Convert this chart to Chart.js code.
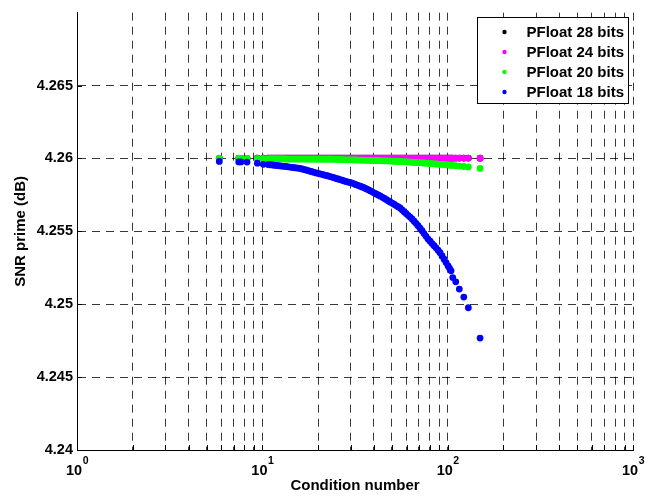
<!DOCTYPE html>
<html>
<head>
<meta charset="utf-8">
<script src="https://cdn.jsdelivr.net/npm/chart.js@4.4.0/dist/chart.umd.min.js"></script>
<style>
  html, body { margin: 0; padding: 0; background: #fff; }
  canvas { display: block; }
</style>
</head>
<body>
<canvas id="chart" width="653" height="498"></canvas>
<script>
// condition numbers (x) shared by all four runs
const conditionNumber = [
  5.86, 7.46, 7.67, 8.27, 9.40, 10.12,
  10.73, 11.00, 11.28, 11.57, 11.86, 12.15, 12.46, 12.77, 13.10, 13.43,
  13.76, 14.11, 14.46, 14.83, 15.20, 15.58, 15.97, 16.38, 16.79, 17.21,
  17.64, 18.09, 18.54, 19.01, 19.49, 19.98, 20.48, 21.00, 21.52, 22.07,
  22.62, 23.19, 23.78, 24.37, 24.99, 25.61, 26.26, 26.92, 27.60, 28.29,
  29.01, 29.73, 30.49, 31.25, 32.04, 32.84, 33.67, 34.52, 35.39, 36.28,
  37.19, 38.13, 39.09, 40.07, 41.08, 42.11, 43.17, 44.26, 45.37, 46.51,
  47.69, 48.88, 50.12, 51.37, 52.67, 53.99, 55.35, 56.74, 58.17, 59.63,
  61.14, 62.67, 64.25, 65.87, 67.53, 69.22, 70.97, 72.75, 74.58, 76.46,
  78.38, 80.36, 82.37, 84.45, 86.57, 88.76, 90.98, 93.28, 95.62, 98.03,
  100.5, 102.4, 104.3,
  106.5, 110.6, 115.6, 122.2, 129.3, 149.6
];

const snr28 = [
  4.26001, 4.26001, 4.26001, 4.26001, 4.26002, 4.26002,
  4.26003, 4.26003, 4.26003, 4.26003, 4.26003, 4.26003, 4.26003, 4.26003, 4.26003, 4.26003,
  4.26003, 4.26003, 4.26003, 4.26003, 4.26003, 4.26003, 4.26003, 4.26003, 4.26003, 4.26003,
  4.26003, 4.26003, 4.26003, 4.26003, 4.26003, 4.26003, 4.26003, 4.26003, 4.26003, 4.26003,
  4.26003, 4.26003, 4.26003, 4.26003, 4.26003, 4.26003, 4.26003, 4.26003, 4.26003, 4.26003,
  4.26003, 4.26003, 4.26003, 4.26003, 4.26003, 4.26003, 4.26003, 4.26003, 4.26003, 4.26003,
  4.26003, 4.26003, 4.26003, 4.26003, 4.26003, 4.26003, 4.26003, 4.26003, 4.26003, 4.26003,
  4.26003, 4.26003, 4.26003, 4.26003, 4.26003, 4.26003, 4.26003, 4.26003, 4.26003, 4.26003,
  4.26003, 4.26003, 4.26003, 4.26003, 4.26003, 4.26003, 4.26003, 4.26003, 4.26003, 4.26003,
  4.26003, 4.26003, 4.26003, 4.26003, 4.26003, 4.26003, 4.26003, 4.26003, 4.26003, 4.26003,
  4.26003, 4.26003, 4.26003,
  4.26003, 4.26003, 4.26003, 4.26003, 4.26003, 4.26002
];

const snr24 = [
  4.26001, 4.26001, 4.26001, 4.26001, 4.26002, 4.26002,
  4.26003, 4.26003, 4.26003, 4.26003, 4.26003, 4.26003, 4.26003, 4.26003, 4.26003, 4.26003,
  4.26003, 4.26003, 4.26003, 4.26003, 4.26003, 4.26003, 4.26003, 4.26003, 4.26003, 4.26003,
  4.26003, 4.26003, 4.26003, 4.26003, 4.26003, 4.26003, 4.26003, 4.26003, 4.26003, 4.26003,
  4.26003, 4.26003, 4.26003, 4.26003, 4.26003, 4.26003, 4.26003, 4.26003, 4.26003, 4.26003,
  4.26003, 4.26003, 4.26003, 4.26003, 4.26003, 4.26003, 4.26003, 4.26003, 4.26003, 4.26003,
  4.26003, 4.26003, 4.26003, 4.26003, 4.26003, 4.26003, 4.26003, 4.26003, 4.26003, 4.26003,
  4.26003, 4.26003, 4.26003, 4.26003, 4.26003, 4.26003, 4.26003, 4.26003, 4.26003, 4.26003,
  4.26003, 4.26003, 4.26003, 4.26003, 4.26003, 4.26003, 4.26003, 4.26003, 4.26003, 4.26003,
  4.26003, 4.26003, 4.26003, 4.26003, 4.26003, 4.26003, 4.26003, 4.26003, 4.26003, 4.26003,
  4.26003, 4.26003, 4.26003,
  4.26003, 4.26003, 4.26003, 4.26003, 4.26003, 4.26002
];

const snr20 = [
  4.26002, 4.26000, 4.26000, 4.26000, 4.25999, 4.25998,
  4.25997, 4.25997, 4.25997, 4.25997, 4.25997, 4.25997, 4.25997, 4.25997, 4.25997, 4.25996,
  4.25996, 4.25996, 4.25996, 4.25996, 4.25996, 4.25996, 4.25996, 4.25996, 4.25996, 4.25996,
  4.25996, 4.25995, 4.25995, 4.25995, 4.25995, 4.25995, 4.25995, 4.25995, 4.25995, 4.25995,
  4.25995, 4.25995, 4.25995, 4.25994, 4.25994, 4.25993, 4.25993, 4.25992, 4.25992, 4.25991,
  4.25991, 4.25991, 4.25991, 4.25990, 4.25990, 4.25989, 4.25989, 4.25988, 4.25988, 4.25987,
  4.25987, 4.25986, 4.25986, 4.25986, 4.25986, 4.25985, 4.25985, 4.25984, 4.25984, 4.25983,
  4.25983, 4.25982, 4.25982, 4.25981, 4.25980, 4.25980, 4.25980, 4.25979, 4.25978, 4.25977,
  4.25976, 4.25975, 4.25974, 4.25973, 4.25973, 4.25972, 4.25971, 4.25970, 4.25969, 4.25968,
  4.25967, 4.25966, 4.25965, 4.25963, 4.25962, 4.25961, 4.25960, 4.25959, 4.25958, 4.25957,
  4.25956, 4.25955, 4.25954,
  4.25952, 4.25950, 4.25948, 4.25945, 4.25942, 4.25932
];

const snr18 = [
  4.25980, 4.25976, 4.25976, 4.25975, 4.25968, 4.25960,
  4.25958, 4.25957, 4.25956, 4.25954, 4.25952, 4.25951, 4.25949, 4.25948, 4.25946, 4.25945,
  4.25943, 4.25941, 4.25939, 4.25937, 4.25935, 4.25934, 4.25932, 4.25928, 4.25924, 4.25921,
  4.25917, 4.25913, 4.25909, 4.25905, 4.25901, 4.25898, 4.25894, 4.25891, 4.25887, 4.25884,
  4.25880, 4.25876, 4.25872, 4.25868, 4.25863, 4.25859, 4.25855, 4.25851, 4.25846, 4.25842,
  4.25838, 4.25835, 4.25831, 4.25826, 4.25820, 4.25815, 4.25810, 4.25805, 4.25799, 4.25793,
  4.25786, 4.25779, 4.25771, 4.25764, 4.25757, 4.25750, 4.25743, 4.25735, 4.25727, 4.25719,
  4.25710, 4.25702, 4.25694, 4.25686, 4.25677, 4.25669, 4.25661, 4.25648, 4.25635, 4.25623,
  4.25610, 4.25598, 4.25585, 4.25570, 4.25555, 4.25539, 4.25522, 4.25504, 4.25485, 4.25466,
  4.25447, 4.25432, 4.25416, 4.25402, 4.25387, 4.25371, 4.25354, 4.25332, 4.25309, 4.25286,
  4.25263, 4.25246, 4.25229,
  4.25183, 4.25154, 4.25104, 4.25049, 4.24976, 4.24768
];

const seriesLabels = ["PFloat 28 bits", "PFloat 24 bits", "PFloat 20 bits", "PFloat 18 bits"];
const seriesColors = ["#000000", "#ff00ff", "#00ff00", "#0000ff"];

const yTickValues = [4.24, 4.245, 4.25, 4.255, 4.26, 4.265];
const yTickLabels = ["4.24", "4.245", "4.25", "4.255", "4.26", "4.265"];
const xGridValues = [1, 2, 3, 4, 5, 6, 7, 8, 9, 10, 20, 30, 40, 50, 60, 70, 80, 90,
  100, 200, 300, 400, 500, 600, 700, 800, 900, 1000];
const xMajorTicks = [1, 10, 100, 1000];
const xMajorExponents = ["0", "1", "2", "3"];

const FONT = "'Liberation Sans', Arial, sans-serif";

function toPoints(ys) {
  return conditionNumber.map((x, i) => ({ x: x, y: ys[i] }));
}

const allSeries = [snr28, snr24, snr20, snr18];
const datasets = allSeries.map((ys, i) => ({
  label: seriesLabels[i],
  data: toPoints(ys),
  backgroundColor: seriesColors[i],
  borderColor: seriesColors[i],
  pointRadius: 3.4,
  pointBorderWidth: 0,
  pointHoverRadius: 3.4,
  showLine: false,
  order: 4 - i, // later series drawn on top, like matlab
}));

// tick labels with superscripts, inward tick marks, boxed legend
const decorPlugin = {
  id: "decor",
  afterDraw(chart) {
    const ctx = chart.ctx;
    const xs = chart.scales.x;
    const ys = chart.scales.y;
    const area = chart.chartArea;
    ctx.save();

    // inward ticks
    ctx.strokeStyle = "#000";
    ctx.lineWidth = 1;
    ctx.beginPath();
    xGridValues.forEach((v) => {
      const px = Math.round(xs.getPixelForValue(v)) + 0.5;
      ctx.moveTo(px, area.bottom);
      ctx.lineTo(px, area.bottom - 5);
    });
    yTickValues.forEach((v) => {
      const py = Math.round(ys.getPixelForValue(v)) + 0.5;
      ctx.moveTo(area.left, py);
      ctx.lineTo(area.left + 5, py);
    });
    ctx.stroke();

    // x labels 10^n
    ctx.fillStyle = "#000";
    ctx.textBaseline = "alphabetic";
    ctx.textAlign = "left";
    xMajorTicks.forEach((v, i) => {
      const px = xs.getPixelForValue(v);
      ctx.font = "bold 14.5px " + FONT;
      const wBase = ctx.measureText("10").width;
      ctx.font = "bold 10.5px " + FONT;
      const wExp = ctx.measureText(xMajorExponents[i]).width;
      const start = px - (wBase + wExp) / 2;
      ctx.font = "bold 14.5px " + FONT;
      ctx.fillText("10", start, 474.5);
      ctx.font = "bold 10.5px " + FONT;
      ctx.fillText(xMajorExponents[i], start + wBase + 0.5, 463.5);
    });

    // legend
    const lx = 477.5, ly = 17.5, lw = 151, lh = 86;
    ctx.fillStyle = "#fff";
    ctx.fillRect(lx, ly, lw, lh);
    ctx.strokeStyle = "#000";
    ctx.strokeRect(lx, ly, lw, lh);
    ctx.font = "bold 15px " + FONT;
    ctx.textBaseline = "middle";
    chart.data.datasets.forEach((ds, i) => {
      const cy = 32 + i * 20;
      ctx.fillStyle = ds.backgroundColor;
      ctx.beginPath();
      ctx.arc(504.5, cy, 2.2, 0, Math.PI * 2);
      ctx.fill();
      ctx.fillStyle = "#000";
      ctx.fillText(ds.label, 526.5, cy + 0.5);
    });

    ctx.restore();
  },
};

const gridColor = "rgba(0,0,0,0.78)";

new Chart(document.getElementById("chart"), {
  type: "scatter",
  data: { datasets: datasets },
  options: {
    responsive: false,
    animation: false,
    events: [],
    layout: { padding: { top: 11, right: 20, left: 0, bottom: 0 } },
    plugins: {
      legend: { display: false },
      tooltip: { enabled: false },
    },
    scales: {
      x: {
        type: "logarithmic",
        min: 1,
        max: 1000,
        afterBuildTicks: (scale) => {
          scale.ticks = xGridValues.map((v) => ({ value: v }));
        },
        afterFit: (scale) => { scale.height = 48; },
        ticks: { display: false },
        grid: {
          drawTicks: false,
          lineWidth: 1,
          color: (c) => (c.tick && c.tick.value === 1 ? "rgba(0,0,0,0)" : gridColor),
        },
        border: { display: true, color: "#000", width: 1, dash: [8, 6] },
        title: {
          display: true,
          text: "Condition number",
          color: "#000",
          font: { family: FONT, size: 15, weight: "bold" },
          padding: { top: 0, bottom: 3 },
        },
      },
      y: {
        type: "linear",
        min: 4.24,
        max: 4.27,
        afterBuildTicks: (scale) => {
          scale.ticks = yTickValues.map((v) => ({ value: v }));
        },
        afterFit: (scale) => { scale.width = 77; },
        ticks: {
          color: "#000",
          padding: 4,
          font: { family: FONT, size: 14.5, weight: "bold" },
          callback: (v) => {
            const k = yTickValues.findIndex((t) => Math.abs(t - v) < 1e-9);
            return k >= 0 ? yTickLabels[k] : "";
          },
        },
        grid: {
          drawTicks: false,
          lineWidth: 1,
          color: (c) => (c.tick && Math.abs(c.tick.value - 4.24) < 1e-9 ? "rgba(0,0,0,0)" : gridColor),
        },
        border: { display: true, color: "#000", width: 1, dash: [8, 6] },
        title: {
          display: true,
          text: "SNR prime (dB)",
          color: "#000",
          font: { family: FONT, size: 15, weight: "bold" },
          padding: { top: 12, bottom: 0 },
        },
      },
    },
  },
  plugins: [decorPlugin],
});
</script>
</body>
</html>
